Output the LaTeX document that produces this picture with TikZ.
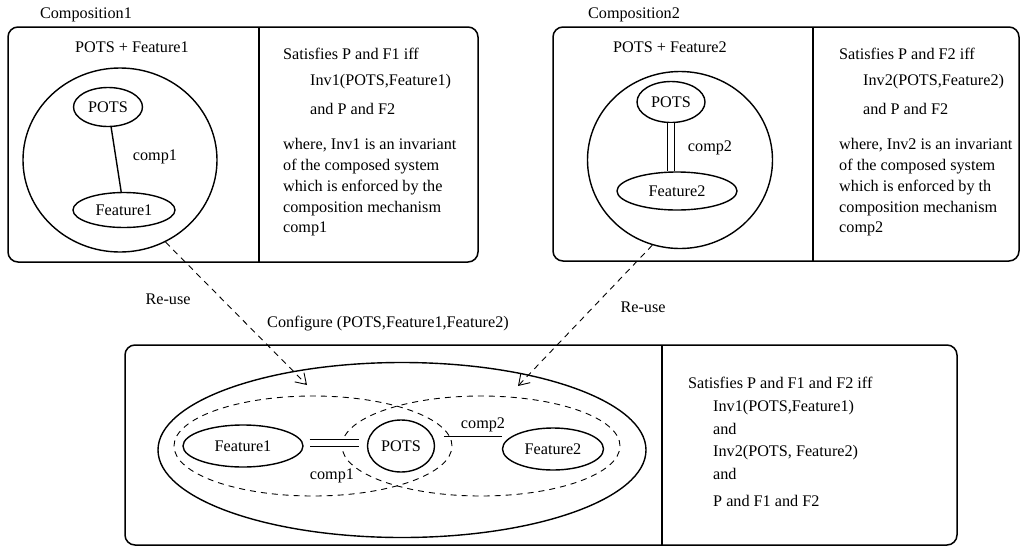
\documentclass[tikz,border=0pt]{standalone}
\usepackage{fontspec}
\setmainfont{Liberation Serif}
\usetikzlibrary{positioning}
\usetikzlibrary{arrows.meta,shapes}
\usetikzlibrary{calc}

\begin{document}
\begin{tikzpicture}[x=1pt, y=-1pt,
    font=\fontsize{16.2}{19}\selectfont,
    frame/.style={line width=1.5pt, rounded corners=10pt},
    blob/.style={draw, ellipse, line width=1.4pt, inner sep=0pt},
    group/.style={draw, ellipse, line width=0.9pt, dash pattern=on 6pt off 5pt, inner sep=0pt},
    txt/.style={inner sep=0pt, anchor=west},
    lbl/.style={inner sep=0pt},
    link/.style={line width=1.4pt},
    dbl/.style={double, line width=1.2pt, double distance=5.5pt},
    reuse/.style={line width=0.9pt, dash pattern=on 6pt off 5pt, -{Straight Barb[length=10pt,width=13pt]}}
  ]

  \useasboundingbox (0,0) rectangle (1021,547);

  % Composition1
  \node[lbl] (comp1title) at (86,15) {Composition1};
  \draw[frame] (8,27) rectangle (478,262);
  \draw[line width=1.5pt] (259,27) -- (259,262);
  \node[lbl] (sys1title) at (132,47) {POTS + Feature1};
  \node[blob, minimum width=194pt, minimum height=184pt] (sys1) at (120,160) {};
  \node[blob, minimum width=69pt, minimum height=39pt] (pots1) at (108,107) {POTS};
  \node[blob, minimum width=102pt, minimum height=35pt] (feat1) at (124,210) {Feature1};
  \draw[link] (pots1) -- (feat1);
  \node[lbl] (c1lbl) at (155,157) {comp1};

  \foreach \x/\y/\t [count=\i] in {283/54/Satisfies P and F1 iff, 310/82/{Inv1(POTS,Feature1)}, 310/109/and P and F2,
      283/145/{where, Inv1 is an invariant}, 283/167/of the composed system, 283/188/which is enforced by the,
      283/209/composition mechanism, 283/229/comp1} {
    \node[txt] (spec1-\i) at (\x,\y) {\t};
  }

  % Composition2
  \node[lbl] (comp2title) at (634,15) {Composition2};
  \draw[frame] (553,27) rectangle (1019,261);
  \draw[line width=1.5pt] (813,27) -- (813,261);
  \node[lbl] (sys2title) at (670,47) {POTS + Feature2};
  \node[blob, minimum width=185pt, minimum height=177pt] (sys2) at (680,160) {};
  \node[blob, minimum width=68pt, minimum height=41pt] (pots2) at (671,102) {POTS};
  \node[blob, minimum width=120pt, minimum height=38pt] (feat2) at (677,191) {Feature2};
  \draw[dbl] (pots2.south) -- (pots2.south |- feat2.north);
  \node[lbl] (c2lbl) at (710,148) {comp2};

  \foreach \x/\y/\t [count=\i] in {839/54/Satisfies P and F2 iff, 863/82/{Inv2(POTS,Feature2)}, 863/109/and P and F2,
      839/145/{where, Inv2 is an invariant}, 839/167/of the composed system, 839/188/which is enforced by th,
      839/209/composition mechanism, 839/229/comp2} {
    \node[txt] (spec2-\i) at (\x,\y) {\t};
  }

  % Configure
  \node[lbl] (cfgtitle) at (388,324) {Configure (POTS,Feature1,Feature2)};
  \draw[frame] (125,345) rectangle (957,545);
  \draw[line width=1.5pt] (662,345) -- (662,545);
  \node[blob, minimum width=488pt, minimum height=175pt] (cfg) at (402,450) {};
  \node[group, minimum width=278pt, minimum height=100pt] (grp1) at (313,446) {};
  \node[group, minimum width=278pt, minimum height=100pt] (grp2) at (481,446) {};
  \node[blob, minimum width=120pt, minimum height=42pt] (feat3a) at (243,446) {Feature1};
  \node[blob, minimum width=67pt, minimum height=52pt] (pots3) at (401,446) {POTS};
  \node[blob, minimum width=101pt, minimum height=42pt] (feat3b) at (553,449) {Feature2};
  \draw[dbl, shorten <=6pt, shorten >=8pt] ([yshift=3pt]feat3a.east) -- ([yshift=3pt]pots3.west);
  \draw[link, shorten <=11pt] (pots3.17) -- (pots3.17 -| feat3b.west);
  \node[lbl] (c3lbl) at (332,476) {comp1};
  \node[lbl] (c4lbl) at (483,425) {comp2};

  \foreach \x/\y/\t [count=\i] in {688/383/Satisfies P and F1 and F2 iff, 713/408/{Inv1(POTS,Feature1)}, 713/429/and,
      713/453/{Inv2(POTS, Feature2)}, 713/474/and, 713/501/P and F1 and F2} {
    \node[txt] (spec3-\i) at (\x,\y) {\t};
  }

  % re-use
  \coordinate (tip1) at (307,385);
  \coordinate (tip2) at (518,386);
  \draw[reuse] (sys1.-61) -- (tip1);
  \draw[reuse] (sys2.-108) -- (tip2);
  \node[lbl] (reuse1) at (168,299) {Re-use};
  \node[lbl] (reuse2) at (643,307) {Re-use};

\end{tikzpicture}
\end{document}
